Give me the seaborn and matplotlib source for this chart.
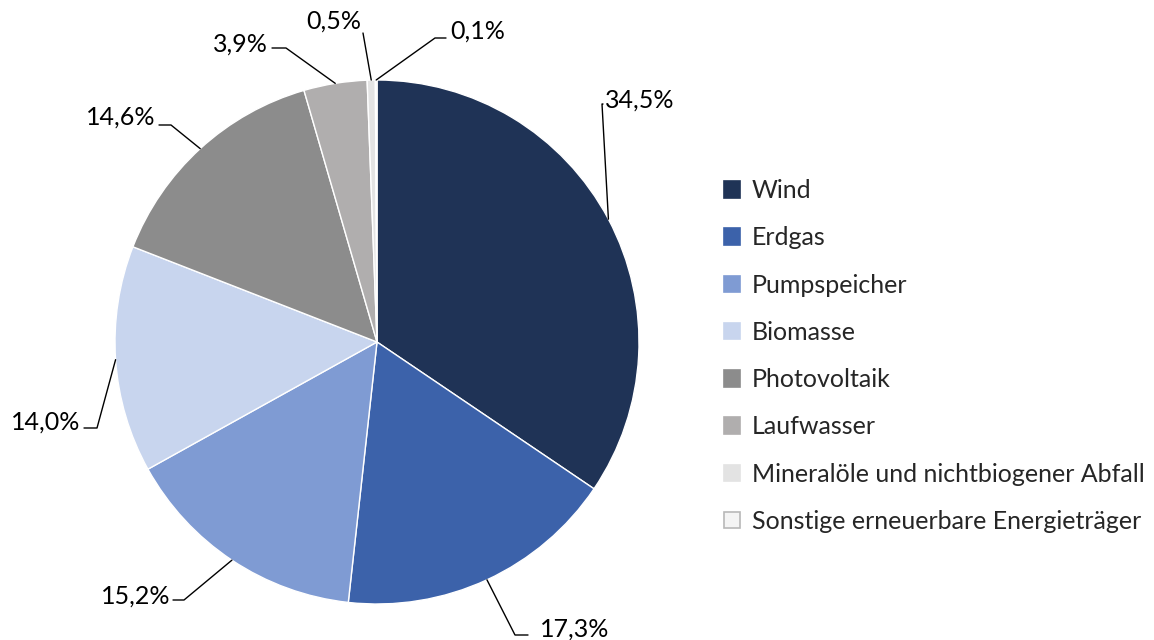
import numpy as np
import matplotlib.pyplot as plt
import seaborn as sns

# Anteile Nettostromerzeugung
quellen = ["Wind", "Erdgas", "Pumpspeicher", "Biomasse", "Photovoltaik",
           "Laufwasser", "Mineralöle und nichtbiogener Abfall",
           "Sonstige erneuerbare Energieträger"]
anteile = [34.5, 17.3, 15.2, 14.0, 14.6, 3.9, 0.5, 0.1]
beschriftung = ["34,5%", "17,3%", "15,2%", "14,0%", "14,6%", "3,9%", "0,5%", "0,1%"]
farben = ["#1f3356", "#3c62aa", "#7f9bd3", "#c8d5ee", "#8c8c8c",
          "#b0aeae", "#e3e3e3", "#f4f4f4"]

sns.set_theme(style="white")
plt.rcParams["font.family"] = ["Lato", "DejaVu Sans"]

W, H = 1154, 640
cx, cy, R = 377, 342, 262

# Führungslinien: Knick, Ende, Textposition (Pixel), Ausrichtung
knick = [(602, 104), (515, 635), (184, 600), (97, 428), (171, 125), (286, 48), (363, 33), (435, 38)]
ende = [(603, 104), (528, 635), (173, 600), (84, 428), (159, 125), (272, 48), (363, 33), (446, 38)]
textpos = [(605, 100), (540, 629), (170, 596), (80, 422), (155, 117), (268, 44), (334, 21), (450, 31)]
ausr = ["left", "left", "right", "right", "right", "right", "center", "left"]


def px(p):
    return ((p[0] - cx) / R, (cy - p[1]) / R)


fig = plt.figure(figsize=(W / 100, H / 100), dpi=100)
ax = fig.add_axes([(cx - R) / W, (H - cy - R) / H, 2 * R / W, 2 * R / H])
wedges, _ = ax.pie(anteile, colors=farben, startangle=90, counterclock=False,
                   radius=1, wedgeprops=dict(edgecolor="white", linewidth=1))
ax.set_xlim(-1, 1)
ax.set_ylim(-1, 1)
ax.set_aspect("equal")
ax.axis("off")

for w, lab, k, e, t, ha in zip(wedges, beschriftung, knick, ende, textpos, ausr):
    mid = np.deg2rad((w.theta1 + w.theta2) / 2)
    p0 = (np.cos(mid), np.sin(mid))
    k1, e1, t1 = px(k), px(e), px(t)
    ax.plot([p0[0], k1[0], e1[0]], [p0[1], k1[1], e1[1]], color="black",
            linewidth=1, clip_on=False)
    ax.text(t1[0], t1[1], lab, ha=ha, va="center", fontsize=18, color="black",
            clip_on=False)

handles = []
for i, w in enumerate(wedges):
    h = plt.Rectangle((0, 0), 1, 1, facecolor=farben[i],
                      edgecolor="#b8b8b8" if i == len(wedges) - 1 else farben[i],
                      linewidth=1.2)
    handles.append(h)

fig.legend(handles, quellen, loc="center left", bbox_to_anchor=(714 / W, 1 - 356 / H),
           frameon=False, fontsize=18, handlelength=0.65, handleheight=0.65,
           handletextpad=0.45, labelspacing=0.97, borderaxespad=0)

fig.savefig("out.png", dpi=100)
